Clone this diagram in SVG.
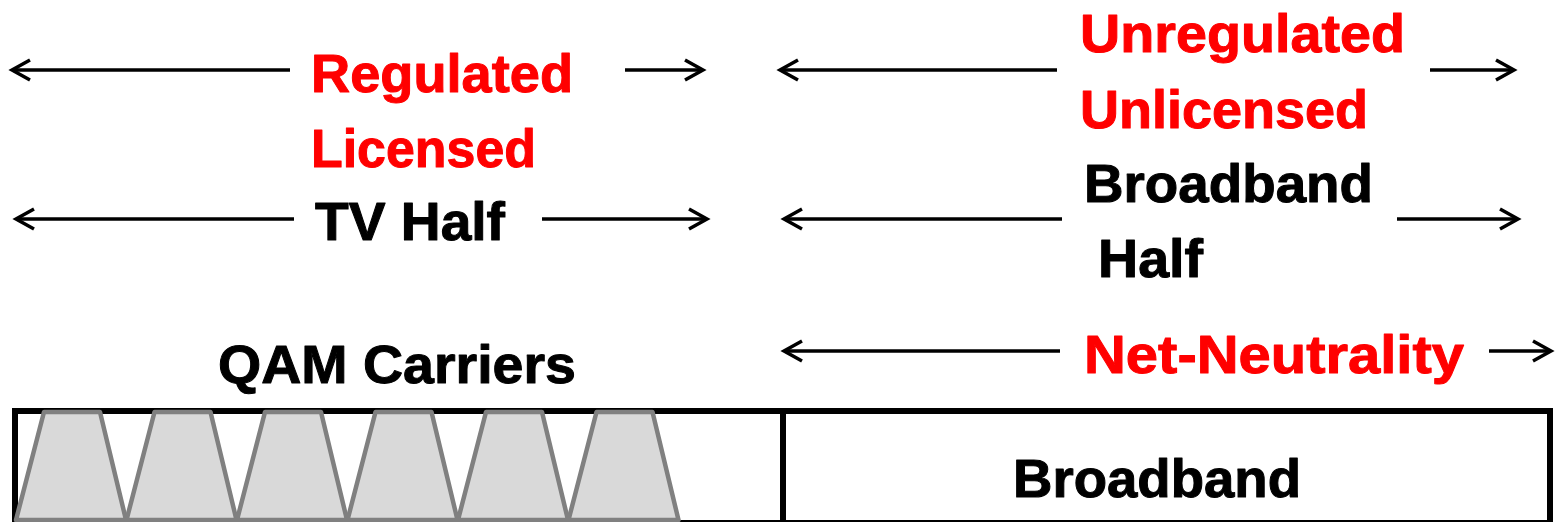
<svg xmlns="http://www.w3.org/2000/svg" width="1558" height="522" viewBox="0 0 1558 522">
<style>
.t{font-family:"Liberation Sans",Arial,sans-serif;font-weight:bold;font-size:54px;stroke-width:1;stroke-linejoin:round}
.r{fill:#ff0000;stroke:#ff0000}
.k{fill:#000000;stroke:#000000}
.a{stroke:#000;stroke-width:3.5;fill:none;marker-end:url(#ah)}
.q{fill:#d9d9d9;stroke:#808080;stroke-width:4.5;stroke-linejoin:round}
</style>
<defs>
<marker id="ah" markerUnits="userSpaceOnUse" markerWidth="30" markerHeight="30" viewBox="-5 -5 30 30" refX="20" refY="10" orient="auto" overflow="visible">
<path d="M2,0 L20,10 L2,20" fill="none" stroke="#000" stroke-width="3.5"/>
</marker>
</defs>
<g id="connectors">
<line class="a" x1="290" y1="70" x2="12" y2="70"/>
<line class="a" x1="625" y1="70" x2="703" y2="70"/>
<line class="a" x1="1057" y1="70" x2="780" y2="70"/>
<line class="a" x1="1430" y1="70" x2="1514" y2="70"/>
<line class="a" x1="294" y1="219" x2="16" y2="219"/>
<line class="a" x1="542" y1="219" x2="707" y2="219"/>
<line class="a" x1="1062" y1="219" x2="784" y2="219"/>
<line class="a" x1="1397" y1="219" x2="1518" y2="219"/>
<line class="a" x1="1060" y1="351" x2="784" y2="351"/>
<line class="a" x1="1489" y1="351" x2="1551" y2="351"/>
</g>
<g id="labels">
<text class="t r" x="311" y="92" textLength="262" lengthAdjust="spacingAndGlyphs">Regulated</text>
<text class="t r" x="311" y="167" textLength="225" lengthAdjust="spacingAndGlyphs">Licensed</text>
<text class="t k" x="315" y="240" textLength="190" lengthAdjust="spacingAndGlyphs">TV Half</text>
<text class="t r" x="1080" y="52" textLength="325" lengthAdjust="spacingAndGlyphs">Unregulated</text>
<text class="t r" x="1080" y="128" textLength="288" lengthAdjust="spacingAndGlyphs">Unlicensed</text>
<text class="t k" x="1084" y="202" textLength="289" lengthAdjust="spacingAndGlyphs">Broadband</text>
<text class="t k" x="1098" y="277" textLength="105" lengthAdjust="spacingAndGlyphs">Half</text>
<text class="t k" x="218" y="383" textLength="358" lengthAdjust="spacingAndGlyphs">QAM Carriers</text>
<text class="t r" x="1084" y="373" textLength="380" lengthAdjust="spacingAndGlyphs">Net-Neutrality</text>
</g>
<g id="spectrum">
<rect x="15" y="411" width="1535" height="112" fill="#fff" stroke="#000" stroke-width="6"/>
<line x1="783" y1="411" x2="783" y2="522" stroke="#000" stroke-width="6"/>
</g>
<g id="qam-carriers">
<polygon class="q" points="16,520 44,412 100,412 126,520"/>
<polygon class="q" points="126.5,520 154.5,412 210.5,412 236.5,520"/>
<polygon class="q" points="237,520 265,412 321,412 347,520"/>
<polygon class="q" points="347.5,520 375.5,412 431.5,412 457.5,520"/>
<polygon class="q" points="458,520 486,412 542,412 568,520"/>
<polygon class="q" points="568.5,520 596.5,412 652.5,412 678.5,520"/>
</g>
<g id="broadband">
<text class="t k" x="1013" y="497" textLength="288" lengthAdjust="spacingAndGlyphs">Broadband</text>
</g>
</svg>
